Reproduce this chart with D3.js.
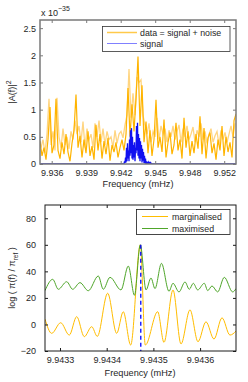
<!DOCTYPE html>
<html>
<head>
<meta charset="utf-8">
<script src="https://cdn.jsdelivr.net/npm/d3@7"></script>
<style>
  body { margin: 0; background: #fff; }
  svg { display: block; font-family: "Liberation Sans", Arial, sans-serif; }
</style>
</head>
<body>
<div id="chart"></div>
<script>
// ---- top panel: periodogram |A(f)|^2 (units of 1e-35) ----
// frequency bins are evenly spaced (mHz)
const dataStart = 9.934515;
const dataStep = 0.00018551;
const dataPower = [
  0.42, 0.15, 0.30, 0.08, 0.45, 1.05, 0.20, 0.35, 1.20, 0.25,
  0.10, 0.40, 0.18, 0.55, 0.22, 0.05, 0.38, 0.62, 1.28, 0.30,
  0.52, 0.12, 0.45, 0.20, 0.60, 0.15, 0.33, 0.08, 0.72, 0.25,
  0.55, 0.10, 0.42, 0.18, 0.48, 0.06, 0.35, 0.22, 0.40, 0.12,
  0.30, 0.45, 0.25, 0.55, 1.40, 0.50, 1.10, 0.60, 1.20, 1.98,
  0.70, 1.45, 0.40, 0.78, 0.20, 0.62, 0.15, 0.45, 1.18, 0.30,
  0.50, 0.22, 0.82, 0.12, 0.40, 0.58, 0.18, 0.35, 0.76, 0.25,
  0.45, 0.10, 0.85, 0.30, 0.60, 0.15, 0.42, 0.20, 0.55, 0.28,
  0.88, 0.18, 0.66, 0.10, 0.48, 0.58, 0.20, 0.38, 0.08, 0.45,
  0.25, 0.70, 0.15, 0.50, 0.22, 0.40, 0.12, 0.80, 0.92
];
// second (lighter) trace, bins offset by half a step
const lightStart = 9.934608;
const dataPowerLight = [
  0.30, 0.45, 0.20, 0.55, 1.20, 0.35, 0.60, 0.25, 1.22, 0.50,
  0.30, 0.65, 0.35, 0.50, 0.28, 0.60, 0.45, 0.80, 0.55, 0.70,
  0.40, 0.78, 0.30, 0.65, 0.45, 0.55, 0.30, 0.75, 0.50, 0.80,
  0.40, 0.65, 0.35, 0.60, 0.45, 0.50, 0.30, 0.62, 0.38, 0.55,
  0.60, 0.48, 0.72, 0.90, 1.75, 0.85, 1.30, 0.90, 1.60, 1.50,
  1.55, 0.90, 0.70, 0.55, 0.75, 0.40, 0.60, 0.50, 0.85, 0.45,
  0.70, 0.55, 0.65, 0.40, 0.62, 0.50, 0.70, 0.45, 0.60, 0.72,
  0.40, 0.65, 0.50, 0.70, 0.45, 0.55, 0.68, 0.40, 0.62, 0.50,
  0.75, 0.45, 0.60, 0.38, 0.55, 0.65, 0.40, 0.52, 0.60, 0.35,
  0.62, 0.45, 0.58, 0.40, 0.55, 0.70, 0.50, 0.75
];
const signalStart = 9.942306;
const signalStep = 0.000046377;
const signalPower = [
  0.00, 0.05, 0.02, 0.12, 0.03, 0.30, 0.05, 0.38, 0.10, 0.25,
  0.05, 0.45, 0.15, 0.62, 0.20, 0.66, 0.10, 0.50, 0.08, 0.35,
  0.12, 0.40, 0.05, 0.30, 0.20, 0.70, 0.25, 0.76, 0.15, 0.55,
  0.10, 0.48, 0.05, 0.42, 0.10, 0.35, 0.03, 0.28, 0.06, 0.22,
  0.02, 0.15, 0.01, 0.10, 0.00, 0.05, 0.00, 0.02, 0.00, 0.03,
  0.00, 0.04, 0.00, 0.02, 0.00, 0.01, 0.00
];
const topXDomain = [9.934515, 9.952694];
const topXTicks = [9.9356, 9.9388, 9.9420, 9.9452, 9.9484, 9.9516];
const topYTicks = [0, 0.5, 1, 1.5, 2, 2.5];

// ---- bottom panel: log posterior ratio ----
const margFreq = [
  9.9432679, 9.9432822, 9.9433015, 9.9433199, 9.9433358, 9.9433520,
  9.9433679, 9.9433799, 9.9434021, 9.9434214, 9.9434355, 9.9434514,
  9.9434720, 9.9434827, 9.9435092, 9.9435227, 9.9435420, 9.9435591,
  9.9435784, 9.9435955, 9.9436126, 9.9436298, 9.9436469, 9.9436640,
  9.9436769
];
const margVal = [
  4, -6.7, 1.3, -8, 5.9, -9.2,
  -1.7, -9, 23.5, -6.7, 9.6, -15.5,
  60, -15.5, 9.6, -13.5, 26, -14.7,
  11, -13, 2, -11, 5, -8,
  -5
];
const maxFreq = [
  9.9432679, 9.9432844, 9.9432964, 9.9433143, 9.9433272, 9.9433428,
  9.9433606, 9.9433820, 9.9433927, 9.9434071, 9.9434306, 9.9434463,
  9.9434595, 9.9434720, 9.9434842, 9.9434949, 9.9435034, 9.9435173,
  9.9435334, 9.9435420, 9.9435548, 9.9435677, 9.9435769, 9.9435854,
  9.9435949, 9.9436090, 9.9436163, 9.9436255, 9.9436377, 9.9436518,
  9.9436698, 9.9436769
];
const maxVal = [
  25.5, 34, 26.5, 32.2, 26.5, 31.5,
  25.4, 36.5, 26.5, 35.5, 26, 44,
  22, 60, 26, 35, 27, 46,
  25, 31, 24.5, 32, 26.5, 31,
  26, 31, 25.5, 29, 24.5, 35.5,
  24.5, 27
];
const trueFreq = 9.943473;
const trueTop = 60;
const botXDomain = [9.9432679, 9.9436769];
const botXTicks = [9.9433, 9.9434, 9.9435, 9.9436];
const botYTicks = [-20, 0, 20, 40, 60, 80];

const width = 248, height = 382;
const svg = d3.select("#chart").append("svg")
  .attr("width", width).attr("height", height);

function drawFrame(x, y, xTicks, yTicks, xFmt, yFmt, boxColor, boxWidth, yPad) {
  const [x0, x1] = x.range();
  const [y0, y1] = y.range();
  const g = svg.append("g").attr("class", "axes");
  // bottom axis with labels, ticks pointing in
  g.append("g")
    .attr("transform", `translate(0,${y0})`)
    .call(d3.axisBottom(x).tickValues(xTicks).tickSize(-3).tickPadding(6).tickFormat(xFmt))
    .call(a => a.select(".domain").remove());
  g.append("g")
    .attr("transform", `translate(0,${y1})`)
    .call(d3.axisTop(x).tickValues(xTicks).tickSize(-3).tickFormat(""))
    .call(a => a.select(".domain").remove());
  g.append("g")
    .attr("transform", `translate(${x0},0)`)
    .call(d3.axisLeft(y).tickValues(yTicks).tickSize(-3).tickPadding(yPad).tickFormat(yFmt))
    .call(a => a.select(".domain").remove());
  g.append("g")
    .attr("transform", `translate(${x1},0)`)
    .call(d3.axisRight(y).tickValues(yTicks).tickSize(-3).tickFormat(""))
    .call(a => a.select(".domain").remove());
  g.selectAll("text").style("font-size", "9px").style("fill", "#262626")
    .style("font-family", '"Liberation Sans", Arial, sans-serif');
  g.selectAll("line").attr("stroke", boxColor);
  g.append("rect")
    .attr("x", x0).attr("y", y1)
    .attr("width", x1 - x0).attr("height", y0 - y1)
    .attr("fill", "none").attr("stroke", boxColor).attr("stroke-width", boxWidth);
}

function clip(id, x, y) {
  svg.append("clipPath").attr("id", id).append("rect")
    .attr("x", x.range()[0]).attr("y", y.range()[1])
    .attr("width", x.range()[1] - x.range()[0])
    .attr("height", y.range()[0] - y.range()[1]);
}

// ================= top panel =================
const x1 = d3.scaleLinear().domain(topXDomain).range([40, 236]);
const y1 = d3.scaleLinear().domain([0, 2.65]).range([164, 20]);
clip("clipTop", x1, y1);

const lineTop = d3.line().x(d => x1(d[0])).y(d => y1(d[1]));
const lightPts = dataPowerLight.map((v, i) => [lightStart + i * dataStep, v]);
const darkPts = dataPower.map((v, i) => [dataStart + i * dataStep, v]);
const sigPts = [[topXDomain[0], 0]]
  .concat(signalPower.map((v, i) => [signalStart + i * signalStep, v]))
  .concat([[topXDomain[1], 0]]);

const topG = svg.append("g").attr("clip-path", "url(#clipTop)");
topG.append("path").attr("d", lineTop(lightPts))
  .attr("fill", "none").attr("stroke", "#ffd581").attr("stroke-width", 1.3);
topG.append("path").attr("d", lineTop(darkPts))
  .attr("fill", "none").attr("stroke", "#ffb400").attr("stroke-width", 1.2);
topG.append("path").attr("d", lineTop(sigPts))
  .attr("fill", "none").attr("stroke", "#1010f0").attr("stroke-width", 1.3);

drawFrame(x1, y1, topXTicks, topYTicks, d3.format(".3f"), d3.format("~g"), "#7a7a7a", 1.5, 4);

// exponent label
svg.append("text").attr("x", 41).attr("y", 16).style("font-size", "9px").style("fill", "#262626")
  .text("x 10")
  .append("tspan").attr("dy", -5).style("font-size", "7px").text("\u221235");

svg.append("text")
  .attr("transform", "translate(15,92) rotate(-90)")
  .attr("text-anchor", "middle").style("font-size", "9px").style("fill", "#262626")
  .text("|A(f)|")
  .append("tspan").attr("dy", -4).style("font-size", "7px").text("2");

svg.append("text").attr("x", 138).attr("y", 187).attr("text-anchor", "middle")
  .style("font-size", "9.2px").style("fill", "#262626").text("Frequency (mHz)");

// legend top
const lgTop = svg.append("g");
lgTop.append("rect").attr("x", 102.5).attr("y", 26.5).attr("width", 127.5).attr("height", 25)
  .attr("fill", "#fff").attr("stroke", "#333").attr("stroke-width", 0.8);
lgTop.append("line").attr("x1", 107).attr("x2", 137).attr("y1", 32.5).attr("y2", 32.5)
  .attr("stroke", "#ffc94a").attr("stroke-width", 1.5);
lgTop.append("line").attr("x1", 107).attr("x2", 137).attr("y1", 43.5).attr("y2", 43.5)
  .attr("stroke", "#8080ff").attr("stroke-width", 1);
lgTop.append("text").attr("x", 140).attr("y", 35.5).style("font-size", "8.8px").style("fill", "#262626")
  .text("data = signal + noise");
lgTop.append("text").attr("x", 140).attr("y", 46.5).style("font-size", "8.8px").style("fill", "#262626")
  .text("signal");

// ================= bottom panel =================
const x2 = d3.scaleLinear().domain(botXDomain).range([45, 236]);
const y2 = d3.scaleLinear().domain([-20, 90]).range([351, 205]);
clip("clipBot", x2, y2);

const smooth = d3.line().x(d => x2(d[0])).y(d => y2(d[1])).curve(d3.curveMonotoneX);
const botG = svg.append("g").attr("clip-path", "url(#clipBot)");
botG.append("path").attr("d", smooth(d3.zip(margFreq, margVal)))
  .attr("fill", "none").attr("stroke", "#ffbd00").attr("stroke-width", 1);
botG.append("path").attr("d", smooth(d3.zip(maxFreq, maxVal)))
  .attr("fill", "none").attr("stroke", "#4fa62a").attr("stroke-width", 1);
botG.append("line")
  .attr("x1", x2(trueFreq)).attr("x2", x2(trueFreq))
  .attr("y1", y2(trueTop)).attr("y2", y2(-20))
  .attr("stroke", "#0000ff").attr("stroke-width", 1.3).attr("stroke-dasharray", "4,3");

drawFrame(x2, y2, botXTicks, botYTicks, d3.format(".4f"), d3.format("d"), "#1a1a1a", 1, 9);

svg.append("text").attr("x", 140).attr("y", 376).attr("text-anchor", "middle")
  .style("font-size", "9.2px").style("fill", "#262626").text("Frequency (mHz)");

const ylab = svg.append("text")
  .attr("transform", "translate(15,278) rotate(-90)")
  .attr("text-anchor", "middle").style("font-size", "9px").style("fill", "#262626");
ylab.append("tspan").text("log ( \u03c0(f) / \u03c0");
ylab.append("tspan").attr("dy", 3).style("font-size", "6.5px").text("ref");
ylab.append("tspan").attr("dy", -3).text(" )");

// legend bottom
const lgBot = svg.append("g");
lgBot.append("rect").attr("x", 136.5).attr("y", 209.5).attr("width", 93.5).attr("height", 25)
  .attr("fill", "#fff").attr("stroke", "#1a1a1a").attr("stroke-width", 0.8);
lgBot.append("line").attr("x1", 142).attr("x2", 168).attr("y1", 216.5).attr("y2", 216.5)
  .attr("stroke", "#ffbd00").attr("stroke-width", 1);
lgBot.append("line").attr("x1", 142).attr("x2", 168).attr("y1", 228.5).attr("y2", 228.5)
  .attr("stroke", "#4fa62a").attr("stroke-width", 1);
lgBot.append("text").attr("x", 172).attr("y", 219.5).style("font-size", "8.8px").style("fill", "#262626")
  .text("marginalised");
lgBot.append("text").attr("x", 172).attr("y", 231.5).style("font-size", "8.8px").style("fill", "#262626")
  .text("maximised");
</script>
</body>
</html>
